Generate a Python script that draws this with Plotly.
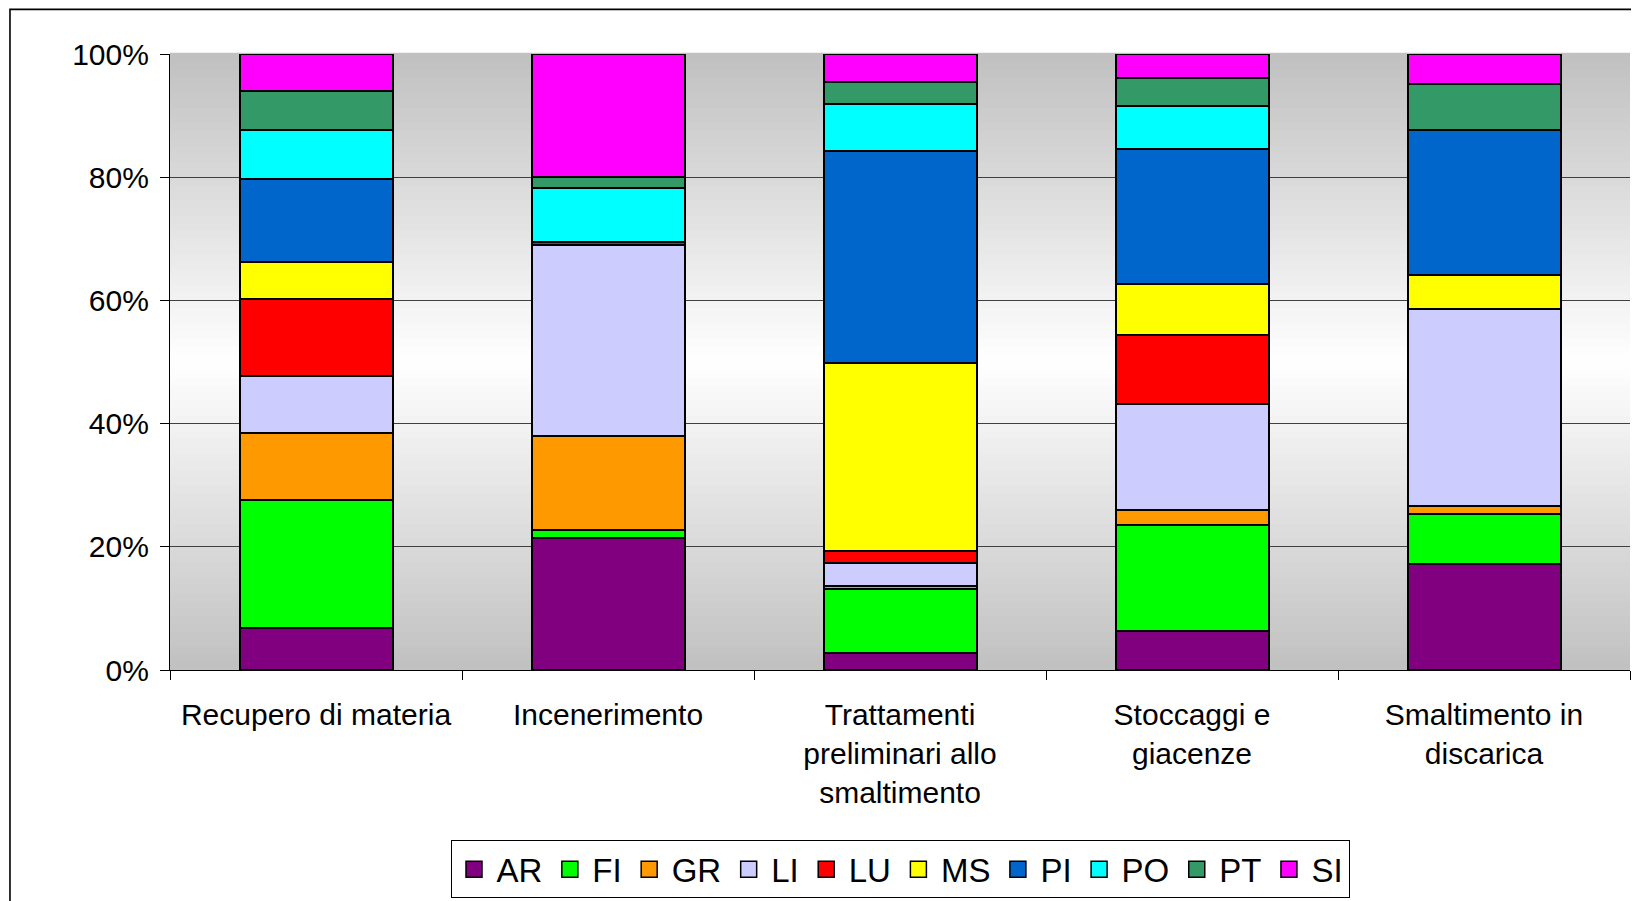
import plotly.graph_objects as go

categories = ["Recupero di materia", "Incenerimento",
              "Trattamenti<br>preliminari allo<br>smaltimento",
              "Stoccaggi e<br>giacenze", "Smaltimento in<br>discarica"]
series_names = ["AR", "FI", "GR", "LI", "LU", "MS", "PI", "PO", "PT", "SI"]
AR = [6.9, 21.4, 2.7, 6.3, 17.2]
FI = [20.7, 1.4, 10.4, 17.2, 8.1]
GR = [10.9, 15.2, 0.6, 2.5, 1.4]
LI = [9.2, 31.1, 3.6, 17.2, 31.9]
LU = [12.6, 0.0, 2.1, 11.2, 0.0]
MS = [6.0, 0.0, 30.4, 8.3, 5.6]
PI = [13.4, 0.4, 34.4, 21.8, 23.5]
PO = [8.0, 8.8, 7.7, 7.1, 0.0]
PT = [6.3, 1.8, 3.6, 4.5, 7.4]
SI = [6.0, 20.0, 4.5, 3.9, 4.9]
series_values = [AR, FI, GR, LI, LU, MS, PI, PO, PT, SI]
colors = ["#800080", "#00FF00", "#FF9900", "#CCCCFF", "#FF0000",
          "#FFFF00", "#0066CC", "#00FFFF", "#339966", "#FF00FF"]

FONT = "Liberation Sans, Arial, sans-serif"

fig = go.Figure()
for name, vals, col in zip(series_names, series_values, colors):
    fig.add_trace(go.Bar(x=categories, y=vals, name=name, showlegend=False,
                         marker=dict(color=col, line=dict(color="black", width=2))))
for name, col in zip(series_names, colors):
    fig.add_trace(go.Scatter(x=[None], y=[None], mode="markers", name=name,
                             marker=dict(symbol="square", size=16, color=col,
                                         line=dict(color="black", width=1.5))))

# vertical two-colour "center" gradient behind the plot area
shapes = []
N = 80
for i in range(N):
    t0 = i / N
    t1 = (i + 1) / N
    tm = (t0 + t1) / 2
    v = int(round(192 + 63 * (1 - abs(2 * tm - 1))))
    c = f"rgb({v},{v},{v})"
    shapes.append(dict(type="rect", xref="paper", yref="paper", x0=0, x1=1,
                       y0=t0, y1=t1 + 0.002, fillcolor=c, line=dict(width=0),
                       layer="below"))
# outer chart frame
shapes.append(dict(type="rect", xref="paper", yref="paper",
                   x0=-0.1096, x1=1.2, y0=-0.6, y1=1.0725,
                   line=dict(color="black", width=1.6), fillcolor="rgba(0,0,0,0)",
                   layer="above"))

fig.update_layout(
    width=1639, height=901,
    margin=dict(l=162, r=17, t=46, b=239, autoexpand=False),
    paper_bgcolor="white", plot_bgcolor="white",
    barmode="stack", barnorm="percent", bargap=0.476,
    font=dict(family=FONT, size=30, color="black"),
    shapes=shapes,
    legend=dict(orientation="h", x=0.5, xanchor="center", y=-0.2765, yanchor="top",
                bordercolor="black", borderwidth=1, bgcolor="white", itemwidth=35,
                traceorder="normal", font=dict(size=33, family=FONT)),
    xaxis=dict(showline=True, linecolor="black", linewidth=1.2,
               ticks="outside", ticklen=9, tickcolor="black", tickson="boundaries",
               showgrid=False, tickfont=dict(size=30), ticklabelstandoff=18,
               fixedrange=True),
    yaxis=dict(range=[0, 100], dtick=20, ticksuffix="%", showline=True,
               linecolor="black", linewidth=1.2, ticks="outside", ticklen=9,
               tickcolor="black", showgrid=True, gridcolor="#404040", gridwidth=1,
               zeroline=False, tickfont=dict(size=30), ticklabelstandoff=5),
)

fig.write_html("out.html")
